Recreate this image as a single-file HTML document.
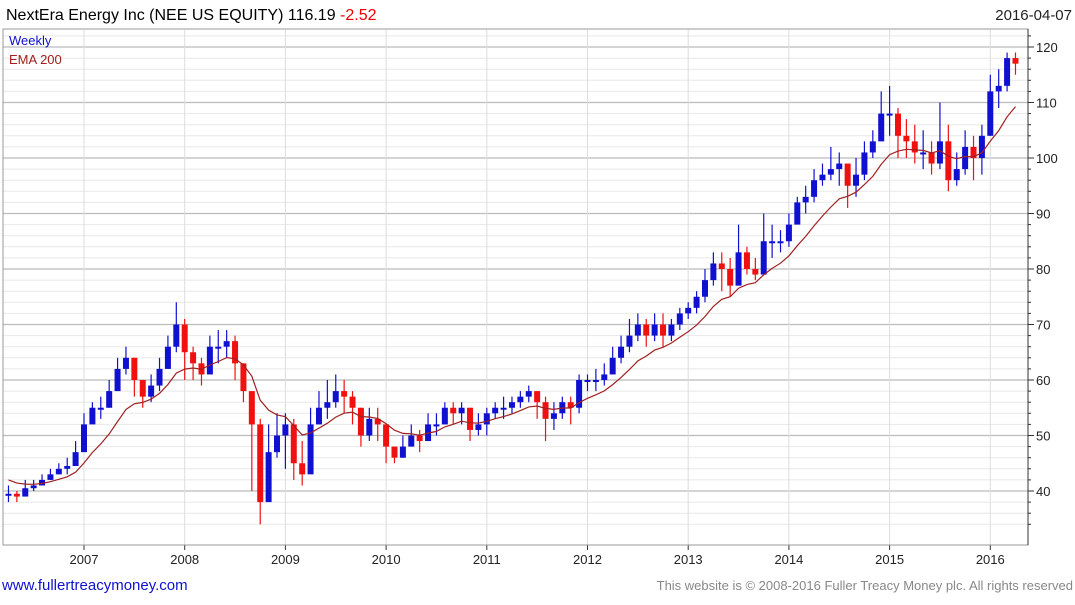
<!DOCTYPE html>
<html><head><meta charset="utf-8"><style>
body{margin:0;background:#fff;width:1075px;height:600px;overflow:hidden;font-family:"Liberation Sans",sans-serif}
</style></head><body>
<svg id="chart" width="1075" height="600" xmlns="http://www.w3.org/2000/svg" font-family="Liberation Sans, sans-serif">
<text x="6" y="20" font-size="16" fill="#000">NextEra Energy Inc (NEE US EQUITY) 116.19 <tspan fill="#e00">-2.52</tspan></text>
<text x="1072" y="20" font-size="15" fill="#222" text-anchor="end">2016-04-07</text>
<g id="grid"></g>
<g id="marks"></g>
<rect x="3" y="29" width="1025" height="516" fill="none" stroke="#999"/>
<line x1="1028" y1="29" x2="1028" y2="545" stroke="#333"/>
<text x="9" y="45" font-size="13" fill="#1010d0">Weekly</text>
<text x="9" y="64" font-size="13" fill="#a02020">EMA 200</text>
<text x="2" y="590" font-size="15" fill="#1010d0">www.fullertreacymoney.com</text>
<text x="1073" y="590" font-size="13" fill="#888" text-anchor="end">This website is © 2008-2016 Fuller Treacy Money plc. All rights reserved</text>
</svg>
<script>
const yearLabels=["2007","2008","2009","2010","2011","2012","2013","2014","2015","2016"];
const yTicks=[40,50,60,70,80,90,100,110,120];
const startYear=2006.25;
const closes=[39.5,39,40.5,41,42,43,44,44.5,47,
52,55,55,58,62,64,60,57,59,62,66,70,
65,63,61,66,66,67,63,58,52,38,47,50,
52,45,43,52,55,56,58,57,55,50,53,52,
48,46,48,50,49,52,52,55,54,55,51,52,
54,55,55,56,57,58,56,53,54,56,55,60,
60,60,61,64,66,68,70,68,70,68,70,72,
73,75,78,81,80,77,83,80,79,85,85,85,
88,92,93,96,97,98,99,95,97,101,103,108,
108,104,103,101,101,99,103,96,98,102,100,104,
112,113,118,117];
const highs=[41,40,42,42,43,44,45,46,49,
54,56,57,60,64,66,64,60,61,64,68,74,
71,66,64,68,69,69,68,63,57,53,52,54,
54,53,49,55,58,60,61,60,58,55,55,55,
52,48,50,52,51,54,54,56,56,56,55,54,
55,56,57,57,58,59,58,57,56,57,57,61,
61,62,63,66,68,71,72,71,72,72,71,73,
74,76,80,83,83,82,88,84,82,90,88,87,
90,93,95,98,99,102,101,98,100,103,105,112,
113,109,107,106,105,103,110,106,101,105,104,106,
115,116,119,119];
const lows=[38,38,39,40,41,42,43,43,45,
49,53,53,55,59,61,57,55,56,58,62,65,
60,60,59,61,63,64,60,56,40,34,42,46,
44,42,41,44,52,53,55,54,52,48,49,49,
45,45,46,48,47,49,50,52,52,52,49,50,
50,53,53,54,55,56,53,49,51,53,52,54,
58,58,59,61,63,65,67,66,67,66,67,69,
71,72,74,77,76,75,78,79,78,81,82,83,
84,89,90,92,95,96,95,91,93,96,100,103,
104,100,100,99,98,97,98,94,95,97,96,97,
104,109,112,115];
const emaStart=42;

const NS="http://www.w3.org/2000/svg";
function xs(t){return 84+(t-2007)*100.7;}
function ys(v){return 491-(v-40)*5.55;}
function mk(tag,attrs,parent){const e=document.createElementNS(NS,tag);for(const k in attrs)e.setAttribute(k,attrs[k]);parent.appendChild(e);return e;}
const grid=document.getElementById('grid');
const marks=document.getElementById('marks');
// minor horizontal grid
for(let v=34;v<=124;v+=2){
  const y=ys(v); if(y<30||y>544) continue;
  const major=v%10===0;
  const l=mk('line',{x1:3,x2:1028,y1:y,y2:y,stroke:major?'#bbb':'#e8e8e8','stroke-width':major?1.2:1},grid);
  
  
  const tk=mk('line',{x1:1028,x2:major?1034:1031,y1:y,y2:y,stroke:'#333'},grid);
  
  
}
yTicks.forEach(v=>{
  const t=mk('text',{x:1036,y:ys(v)+5,'font-size':13,fill:'#222'},grid);
  t.textContent=String(v);
  
  
});
yearLabels.forEach(s=>{
  const x=xs(+s);
  const l=mk('line',{x1:x,x2:x,y1:30,y2:545,stroke:'#ddd'},grid);
  
  
  const tk=mk('line',{x1:x,x2:x,y1:545,y2:550,stroke:'#333'},grid);
  
  
  const t=mk('text',{x:x,y:564,'font-size':13,fill:'#222','text-anchor':'middle'},grid);
  t.textContent=s;
  
  
});
const xl=mk('line',{x1:3,x2:1028,y1:545,y2:545,stroke:'#333'},grid);


// bars
closes.forEach((c,i)=>{
  const t=startYear+i/12, x=xs(t);
  const o=i>0?closes[i-1]:c;
  const col=c>=o?'#1010d0':'#f01010';
  const w=mk('line',{x1:x,x2:x,y1:ys(highs[i]),y2:ys(lows[i]),stroke:col,'stroke-width':1.2},marks);
  
  
  const top=ys(Math.max(o,c)), bot=ys(Math.min(o,c));
  const r=mk('rect',{x:x-3,y:top,width:6,height:Math.max(2,bot-top),fill:col},marks);
  
  
});
// EMA
const alpha=2/(9.5+1);
let e=emaStart, pts=[];
closes.forEach((c,i)=>{ if(i>0) e=e+alpha*(c-e); pts.push(xs(startYear+i/12).toFixed(1)+','+ys(e).toFixed(1)); });
const pl=mk('polyline',{points:pts.join(' '),fill:'none',stroke:'#a02020','stroke-width':1.2},marks);


</script>
</body></html>
